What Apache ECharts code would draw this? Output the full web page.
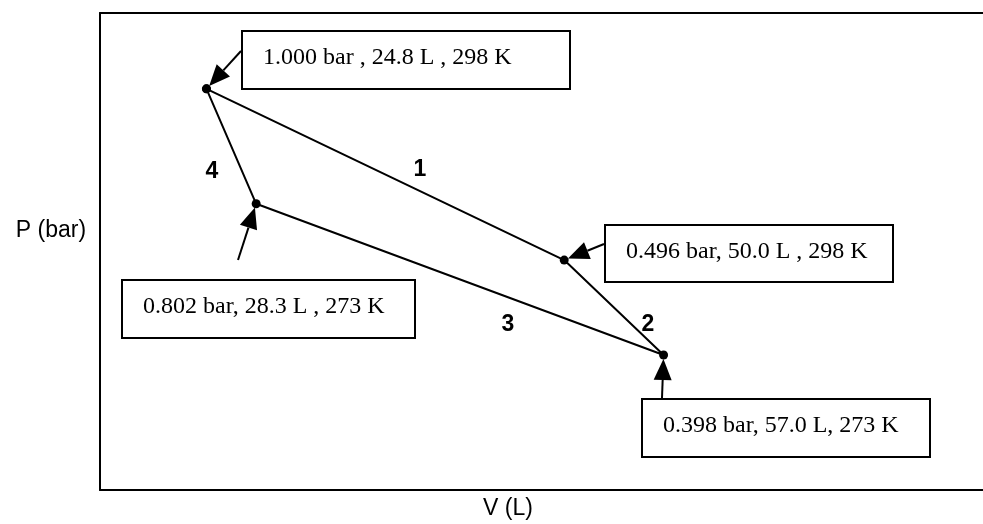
<!DOCTYPE html>
<html>
<head>
<meta charset="utf-8">
<script src="https://cdn.jsdelivr.net/npm/echarts@6/dist/echarts.min.js"></script>
<style>
  html, body { margin: 0; padding: 0; background: #fff; }
  #chart { width: 983px; height: 524px; }
</style>
</head>
<body>
<div id="chart"></div>
<script>
// the four states, in cycle order (step 1: A->B, 2: B->C, 3: C->D, 4: D->A)
var volume = [24.8, 50.0, 57.0, 28.3];            // L
// P axis has no scale in the sketch, so these are heights read off the picture (0..100)
var plotHeight = [84.1, 48.2, 28.3, 60.0];
var stateText = [
  '1.000 bar , 24.8 L , 298 K',
  '0.496 bar, 50.0 L , 298 K',
  '0.398 bar, 57.0 L, 273 K',
  '0.802 bar, 28.3 L , 273 K'
];
var stepLabels = ['1', '2', '3', '4'];

var chart = echarts.init(document.getElementById('chart'));

var cycle = volume.map(function (v, i) { return [v, plotHeight[i]]; });
cycle.push(cycle[0]);

var option = {
  animation: false,
  grid: { left: 100, right: 0, top: 13, bottom: 34 },
  xAxis: [
    {
      type: 'value', min: 17.3, max: 79.5,
      axisLine: { show: true, lineStyle: { color: '#000', width: 2 } },
      axisTick: { show: false }, axisLabel: { show: false }, splitLine: { show: false }
    },
    {
      type: 'value', position: 'top', min: 17.3, max: 79.5,
      axisLine: { show: true, lineStyle: { color: '#000', width: 2 } },
      axisTick: { show: false }, axisLabel: { show: false }, splitLine: { show: false }
    }
  ],
  yAxis: {
    type: 'value', min: 0, max: 100,
    axisLine: { show: true, lineStyle: { color: '#000', width: 2 } },
    axisTick: { show: false }, axisLabel: { show: false }, splitLine: { show: false }
  },
  series: [{
    type: 'line',
    data: cycle,
    symbol: 'circle',
    symbolSize: 9,
    itemStyle: { color: '#000' },
    lineStyle: { color: '#000', width: 2 }
  }]
};
chart.setOption(option);

// label boxes and arrow tails (layout only)
var boxes = [
  { x: 242, y: 31, w: 328, h: 58, tail: [241, 51] },
  { x: 605, y: 225, w: 288, h: 57, tail: [604, 244] },
  { x: 642, y: 399, w: 288, h: 58, tail: [662, 398] },
  { x: 122, y: 280, w: 293, h: 58, tail: [238, 260] }
];
var stepPos = [[420, 170], [648, 325], [508, 325], [212, 172]];

function draw() {
  var g = [];
  var pts = volume.map(function (v, i) {
    return chart.convertToPixel({ gridIndex: 0 }, [v, plotHeight[i]]);
  });
  boxes.forEach(function (b, i) {
    g.push({
      type: 'rect', shape: { x: b.x, y: b.y, width: b.w, height: b.h },
      style: { fill: '#fff', stroke: '#000', lineWidth: 2 }
    });
    g.push({
      type: 'text', x: b.x + 21, y: b.y + b.h / 2 - 2,
      style: {
        text: stateText[i], fill: '#000',
        font: '24px "Liberation Serif", "Times New Roman", serif',
        verticalAlign: 'middle', align: 'left'
      }
    });
    // arrow pointing at the state
    var p = pts[i], t = b.tail;
    var dx = p[0] - t[0], dy = p[1] - t[1];
    var len = Math.sqrt(dx * dx + dy * dy);
    var ux = dx / len, uy = dy / len;
    var tip = [p[0] - ux * 4, p[1] - uy * 4];
    var hl = 21, hw = 9;
    var base = [tip[0] - ux * hl, tip[1] - uy * hl];
    g.push({
      type: 'line', shape: { x1: t[0], y1: t[1], x2: base[0], y2: base[1] },
      style: { stroke: '#000', lineWidth: 2 }
    });
    g.push({
      type: 'polygon',
      shape: { points: [tip, [base[0] - uy * hw, base[1] + ux * hw], [base[0] + uy * hw, base[1] - ux * hw]] },
      style: { fill: '#000' }
    });
  });
  stepLabels.forEach(function (s, i) {
    g.push({
      type: 'text', x: stepPos[i][0], y: stepPos[i][1],
      style: {
        text: s, fill: '#000', font: 'bold 23px "Liberation Sans", Arial, sans-serif',
        align: 'center', verticalAlign: 'middle'
      }
    });
  });
  g.push({
    type: 'text', x: 51, y: 231,
    style: { text: 'P (bar)', fill: '#000', font: '23px "Liberation Sans", Arial, sans-serif', align: 'center', verticalAlign: 'middle' }
  });
  g.push({
    type: 'text', x: 508, y: 509,
    style: { text: 'V (L)', fill: '#000', font: '23px "Liberation Sans", Arial, sans-serif', align: 'center', verticalAlign: 'middle' }
  });
  chart.setOption({ graphic: g });
}
draw();
window.addEventListener('resize', function () { chart.resize(); draw(); });
</script>
</body>
</html>
